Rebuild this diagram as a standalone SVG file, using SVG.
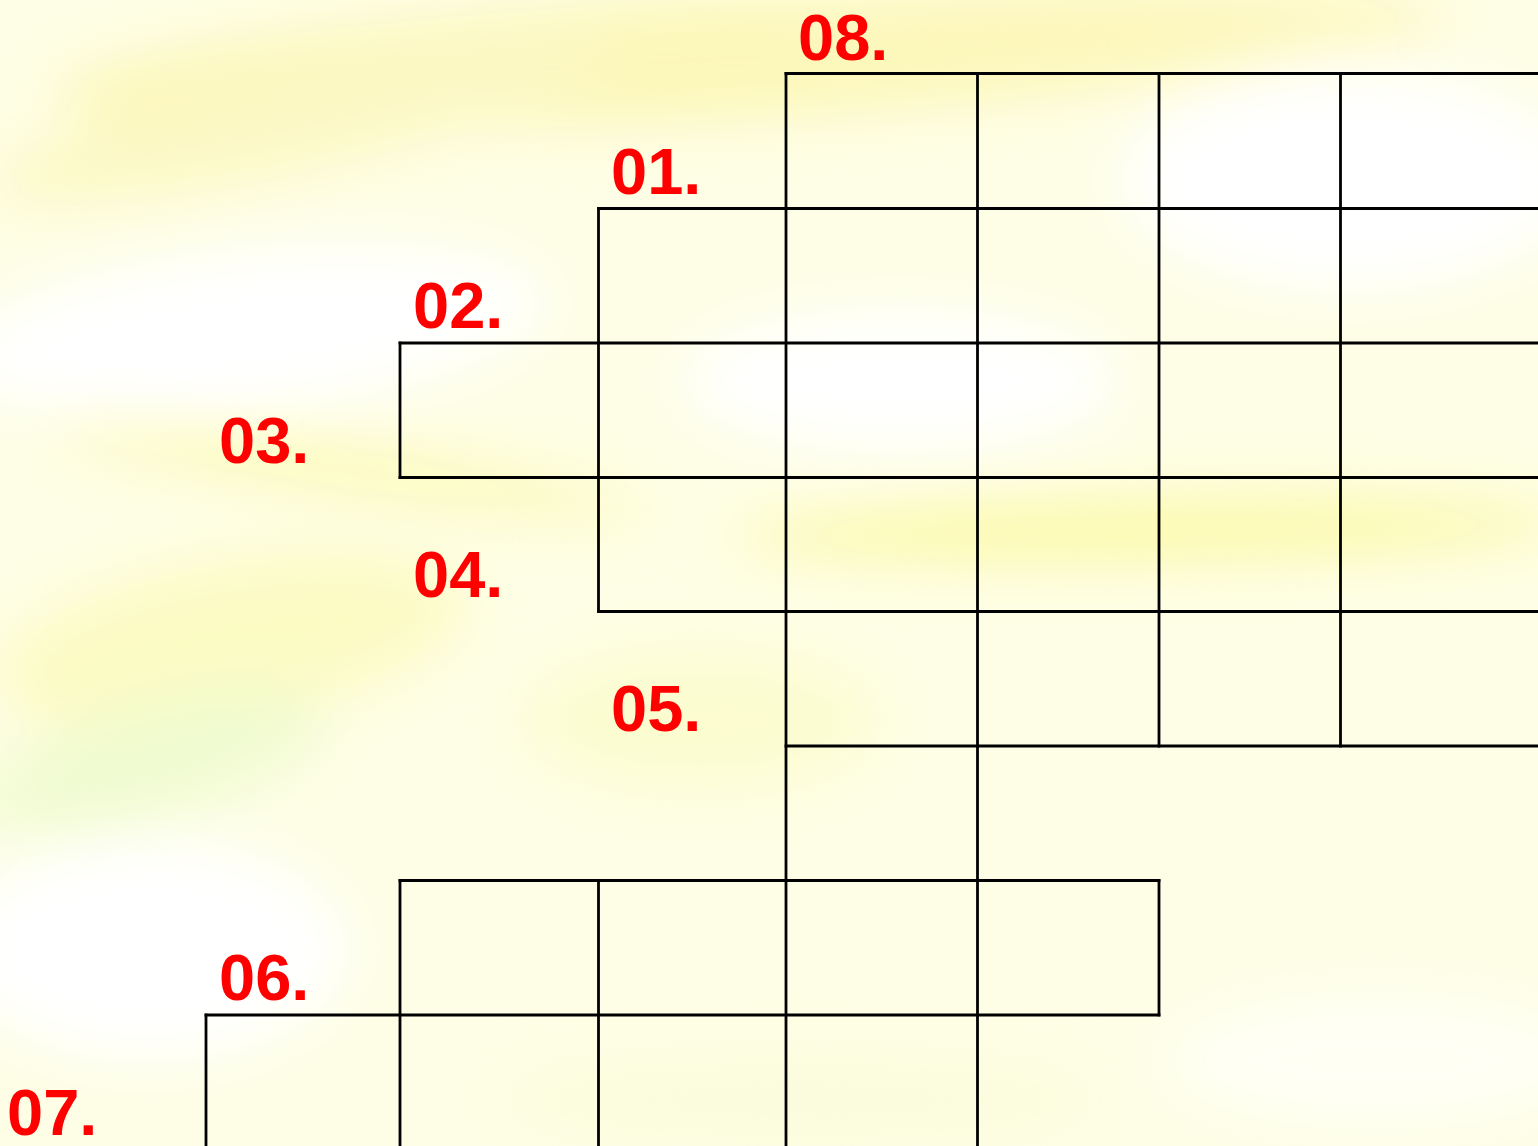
<svg xmlns="http://www.w3.org/2000/svg" width="1538" height="1146" viewBox="0 0 1538 1146">
<defs>
<filter id="blur" x="-20%" y="-20%" width="140%" height="140%"><feGaussianBlur stdDeviation="28"/></filter>
<style>
.grid line{stroke:#000;stroke-width:2.8;stroke-linecap:square}
.lbl{font-family:"Liberation Sans",Arial,sans-serif;font-weight:bold;font-size:65px;fill:#ff0000}
</style>
</defs>
<g id="background">
<rect x="0" y="0" width="1538" height="1146" fill="#fefee6"/>
<g filter="url(#blur)">
<ellipse cx="700" cy="60" rx="650" ry="60" fill="#fcf7b8" transform="rotate(-3 700 60)"/>
<ellipse cx="300" cy="120" rx="320" ry="50" fill="#fcf8c4" transform="rotate(-12 300 120)"/>
<ellipse cx="1100" cy="20" rx="350" ry="35" fill="#fdf7bc"/>
<ellipse cx="250" cy="330" rx="300" ry="80" fill="#ffffff" transform="rotate(-6 250 330)"/>
<ellipse cx="1350" cy="180" rx="230" ry="110" fill="#ffffff"/>
<ellipse cx="900" cy="380" rx="220" ry="70" fill="#ffffff"/>
<ellipse cx="350" cy="470" rx="300" ry="22" fill="#fbf9b4" transform="rotate(8 350 470)"/>
<ellipse cx="1150" cy="530" rx="420" ry="30" fill="#fbf9a8" transform="rotate(-1 1150 530)"/>
<ellipse cx="230" cy="640" rx="240" ry="80" fill="#fcfbc4" transform="rotate(-10 230 640)"/>
<ellipse cx="150" cy="760" rx="180" ry="55" fill="#f0fbd0" transform="rotate(-15 150 760)"/>
<ellipse cx="150" cy="950" rx="200" ry="110" fill="#ffffff"/>
<ellipse cx="700" cy="720" rx="180" ry="70" fill="#fcfcd0"/>
<ellipse cx="1380" cy="1060" rx="220" ry="70" fill="#fffff4"/>
<ellipse cx="800" cy="1100" rx="300" ry="45" fill="#fbfcdc"/>
</g>
</g>
<g id="grid" class="grid">
<line x1="786" y1="73.5" x2="1540" y2="73.5"/>
<line x1="598.5" y1="208.5" x2="1540" y2="208.5"/>
<line x1="400" y1="343" x2="1540" y2="343"/>
<line x1="400" y1="477.5" x2="1540" y2="477.5"/>
<line x1="598.5" y1="611.5" x2="1540" y2="611.5"/>
<line x1="786" y1="746" x2="1540" y2="746"/>
<line x1="400" y1="880.5" x2="1159" y2="880.5"/>
<line x1="206" y1="1015" x2="1159" y2="1015"/>
<line x1="206" y1="1015" x2="206" y2="1150"/>
<line x1="400" y1="343" x2="400" y2="477.5"/>
<line x1="400" y1="880.5" x2="400" y2="1150"/>
<line x1="598.5" y1="208.5" x2="598.5" y2="611.5"/>
<line x1="598.5" y1="880.5" x2="598.5" y2="1150"/>
<line x1="786" y1="73.5" x2="786" y2="1150"/>
<line x1="977.5" y1="73.5" x2="977.5" y2="1150"/>
<line x1="1159" y1="73.5" x2="1159" y2="746"/>
<line x1="1159" y1="880.5" x2="1159" y2="1015"/>
<line x1="1340.5" y1="73.5" x2="1340.5" y2="746"/>
</g>
<g id="labels">
<text class="lbl" x="798" y="60">08.</text>
<text class="lbl" x="611" y="193.5">01.</text>
<text class="lbl" x="413" y="328">02.</text>
<text class="lbl" x="219" y="462.5">03.</text>
<text class="lbl" x="413" y="596.5">04.</text>
<text class="lbl" x="611" y="731">05.</text>
<text class="lbl" x="219" y="1000">06.</text>
<text class="lbl" x="7" y="1134.5">07.</text>
</g>
</svg>
